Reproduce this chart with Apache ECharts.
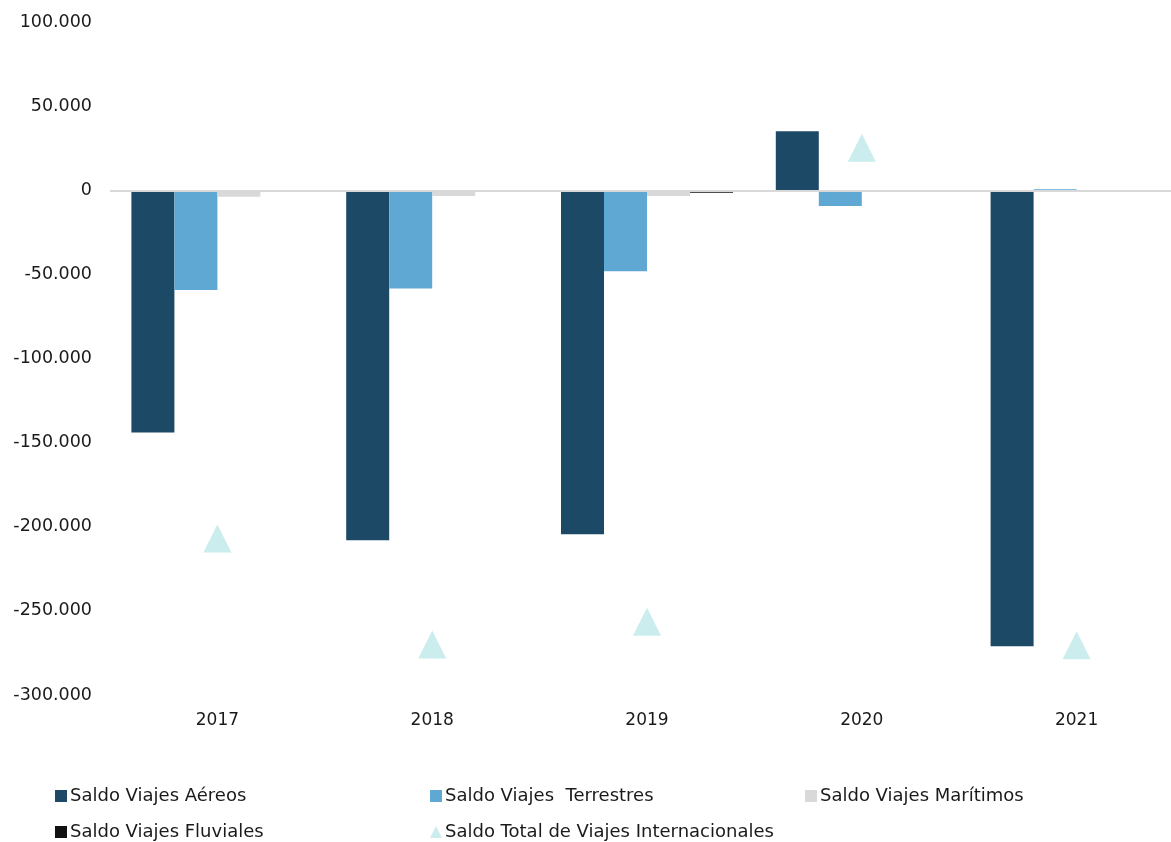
<!DOCTYPE html>
<html>
<head>
<meta charset="utf-8">
<script src="https://cdn.jsdelivr.net/npm/echarts@6/dist/echarts.min.js"></script>
<style>
  html, body { margin: 0; padding: 0; background: #fff; }
  #main { width: 1171px; height: 842px; }
</style>
</head>
<body>
<div id="main"></div>
<script>
// datos
var years = ['2017', '2018', '2019', '2020', '2021'];
var aereos = [-144000, -208000, -204500, 35000, -271000];
var terrestres = [-59300, -58400, -48200, -9300, 600];
var maritimos = [-3800, -3400, -3400, 0, 0];
var fluviales = [-400, -400, -1500, 0, 0];
var total = [-207000, -270000, -256500, 25300, -270500];

var names = ['Saldo Viajes Aéreos', 'Saldo Viajes  Terrestres', 'Saldo Viajes Marítimos',
  'Saldo Viajes Fluviales', 'Saldo Total de Viajes Internacionales'];
var colors = ['#1C4966', '#5FA8D4', '#D9D9D9', '#111111', '#BEE8E8'];

var font = 'DejaVu Sans';
var myChart = echarts.init(document.getElementById('main'));

function fmt(v) {
  var s = Math.abs(v).toString().replace(/\B(?=(\d{3})+(?!\d))/g, '.');
  return (v < 0 ? '-' : '') + s;
}

function legendAt(name, left, top, icon) {
  return {
    data: [{ name: name, icon: icon }],
    left: left,
    top: top,
    padding: 0,
    itemWidth: 12,
    itemHeight: 12,
    textStyle: { fontFamily: font, fontSize: 18, color: '#1a1a1a', padding: [0, 0, 0, -2] }
  };
}

function bar(i, data) {
  return {
    name: names[i],
    type: 'bar',
    data: data,
    barWidth: 43,
    barGap: '0%',
    itemStyle: { color: colors[i] }
  };
}

var option = {
  animation: false,
  color: colors,
  grid: { left: 110, top: 22, width: 1074, height: 673, outerBoundsMode: 'none' },
  legend: [
    legendAt(names[0], 55, 787, 'rect'),
    legendAt(names[1], 430, 787, 'rect'),
    legendAt(names[2], 805, 787, 'rect'),
    legendAt(names[3], 55, 823, 'rect'),
    legendAt(names[4], 430, 823, 'triangle')
  ],
  xAxis: {
    type: 'category',
    data: years,
    axisLine: { show: false, onZero: false },
    axisTick: { show: false },
    axisLabel: { margin: 17, fontFamily: font, fontSize: 17, color: '#1a1a1a' }
  },
  yAxis: {
    type: 'value',
    min: -300000,
    max: 100000,
    interval: 50000,
    axisLine: { show: false },
    axisTick: { show: false },
    splitLine: { show: false },
    axisLabel: { margin: 18, fontFamily: font, fontSize: 17.5, color: '#1a1a1a', formatter: fmt }
  },
  series: [
    bar(0, aereos),
    bar(1, terrestres),
    bar(2, maritimos),
    bar(3, fluviales),
    {
      name: names[4],
      type: 'scatter',
      data: total,
      symbol: 'triangle',
      symbolSize: [28, 28],
      itemStyle: { color: colors[4] },
      z: 3,
      markLine: {
        silent: true,
        symbol: 'none',
        label: { show: false },
        lineStyle: { color: '#D9D9D9', width: 2, type: 'solid' },
        data: [{ yAxis: 0 }]
      }
    }
  ]
};

myChart.setOption(option);
window.onresize = myChart.resize;
</script>
</body>
</html>
